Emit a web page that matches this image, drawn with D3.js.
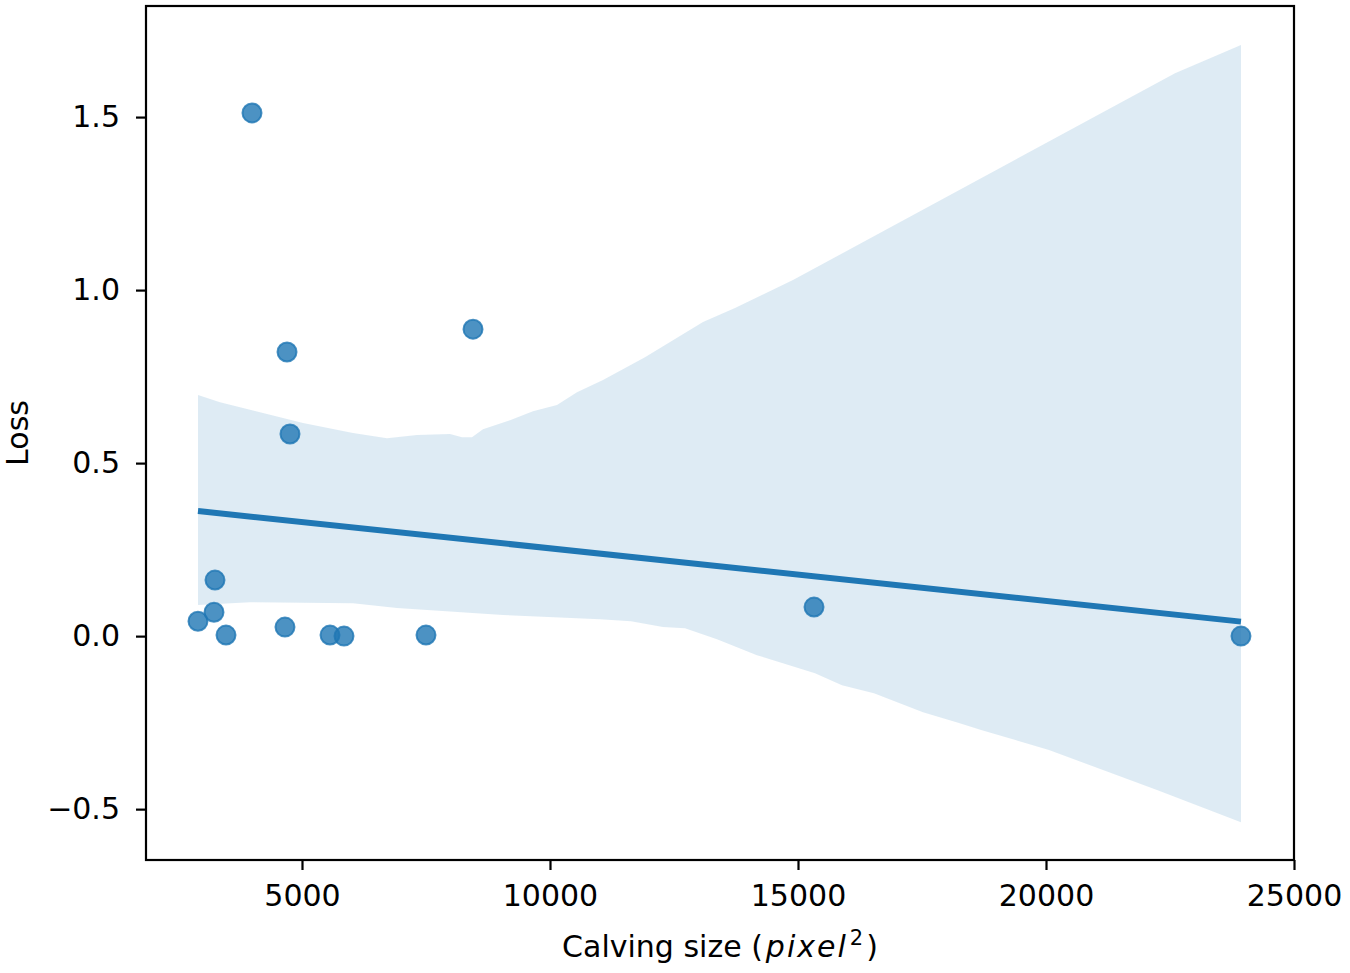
<!DOCTYPE html>
<html>
<head>
<meta charset="utf-8">
<script src="https://cdn.jsdelivr.net/npm/d3@7/dist/d3.min.js"></script>
<style>
  html, body { margin: 0; padding: 0; background: #ffffff; }
  svg { display: block; font-family: "DejaVu Sans", sans-serif; }
</style>
</head>
<body>
<svg id="chart" width="1350" height="973"></svg>
<script>
// ---- data ----
const calvingSize = [2903, 3226, 3246, 3468, 3992, 4657, 4698, 4758, 5565, 5847, 7500, 8448, 15323, 23931];
const loss        = [0.043, 0.069, 0.162, 0.003, 1.512, 0.026, 0.821, 0.584, 0.003, 0.0, 0.003, 0.887, 0.084, 0.0];

// confidence band edges
const bandUpperX = [2903, 3347, 5020, 6028, 6714, 7318, 7984, 8226, 8427, 8649, 9194, 9657, 10141, 10544, 11069, 11915, 13085, 13730, 14899, 22601, 23931];
const bandUpperY = [0.697, 0.676, 0.616, 0.587, 0.572, 0.581, 0.584, 0.575, 0.575, 0.598, 0.624, 0.650, 0.668, 0.705, 0.740, 0.806, 0.908, 0.948, 1.029, 1.627, 1.708];
const bandLowerX = [2903, 3952, 6028, 6915, 9052, 11008, 11633, 12278, 12722, 13367, 14173, 15343, 15887, 16532, 17520, 18246, 18709, 20060, 22238, 23931];
const bandLowerY = [0.090, 0.098, 0.095, 0.081, 0.061, 0.049, 0.043, 0.026, 0.023, -0.009, -0.055, -0.107, -0.142, -0.165, -0.220, -0.251, -0.272, -0.329, -0.445, -0.538];

const xTicks = [5000, 10000, 15000, 20000, 25000];
const yTicks = [-0.5, 0.0, 0.5, 1.0, 1.5];

// ---- layout ----
const W = 1350, H = 973;
const m = { left: 146, top: 6, right: 56, bottom: 113 };
const iw = W - m.left - m.right, ih = H - m.top - m.bottom;
const color = "#1f77b4";
const fs = 30;

const svg = d3.select("#chart");
const g = svg.append("g").attr("transform", `translate(${m.left},${m.top})`);

const x = d3.scaleLinear().domain([1855, 25000]).range([0, iw]);
const y = d3.scaleLinear().domain([-0.647, 1.821]).range([ih, 0]);

// band
const upper = bandUpperX.map((v, i) => [x(v), y(bandUpperY[i])]);
const lower = bandLowerX.map((v, i) => [x(v), y(bandLowerY[i])]).reverse();
g.append("path")
  .attr("d", d3.line()(upper.concat(lower)) + "Z")
  .attr("fill", color)
  .attr("fill-opacity", 0.15)
  .attr("stroke", "none");

// points
g.selectAll("circle.pt")
  .data(calvingSize.map((v, i) => [v, loss[i]]))
  .join("circle")
  .attr("class", "pt")
  .attr("cx", d => x(d[0]))
  .attr("cy", d => y(d[1]))
  .attr("r", 9.5)
  .attr("fill", color)
  .attr("fill-opacity", 0.8)
  .attr("stroke", color)
  .attr("stroke-opacity", 0.8)
  .attr("stroke-width", 2);

// regression line (least squares on data)
const n = calvingSize.length;
const mx = d3.mean(calvingSize), my = d3.mean(loss);
let sxy = 0, sxx = 0;
for (let i = 0; i < n; i++) { sxy += (calvingSize[i] - mx) * (loss[i] - my); sxx += (calvingSize[i] - mx) ** 2; }
const slope = sxy / sxx, icpt = my - slope * mx;
const x0 = d3.min(calvingSize), x1 = d3.max(calvingSize);
g.append("path")
  .attr("d", d3.line()([[x(x0), y(icpt + slope * x0)], [x(x1), y(icpt + slope * x1)]]))
  .attr("stroke", color)
  .attr("stroke-width", 6)
  .attr("fill", "none");

// axes
const xAxis = g.append("g").attr("transform", `translate(0,${ih})`)
  .call(d3.axisBottom(x).tickValues(xTicks).tickFormat(d3.format("d")).tickSize(10).tickPadding(15));
const yAxis = g.append("g")
  .call(d3.axisLeft(y).tickValues(yTicks).tickFormat(d3.format(".1f")).tickSize(10).tickPadding(16));
[xAxis, yAxis].forEach(a => {
  a.select(".domain").remove();
  a.selectAll(".tick line").attr("stroke", "#000").attr("stroke-width", 2.2);
  a.selectAll(".tick text").attr("font-size", fs).attr("font-family", "DejaVu Sans").attr("fill", "#000");
});

// frame
g.append("rect").attr("x", 0).attr("y", 0).attr("width", iw).attr("height", ih)
  .attr("fill", "none").attr("stroke", "#000").attr("stroke-width", 2.2);

// labels
const xl = svg.append("text")
  .attr("x", m.left + iw / 2).attr("y", 957)
  .attr("text-anchor", "middle").attr("font-size", fs).attr("fill", "#000");
xl.append("tspan").text("Calving size (");
xl.append("tspan").attr("font-style", "italic").attr("letter-spacing", 2).attr("dx", 3).text("pixel");
xl.append("tspan").attr("font-size", 21).attr("dy", -12).attr("dx", 2).text("2");
xl.append("tspan").attr("dy", 12).attr("dx", 3).text(")");

svg.append("text")
  .attr("transform", `translate(28,${m.top + ih / 2}) rotate(-90)`)
  .attr("text-anchor", "middle").attr("font-size", fs).attr("fill", "#000")
  .text("Loss");
</script>
</body>
</html>
